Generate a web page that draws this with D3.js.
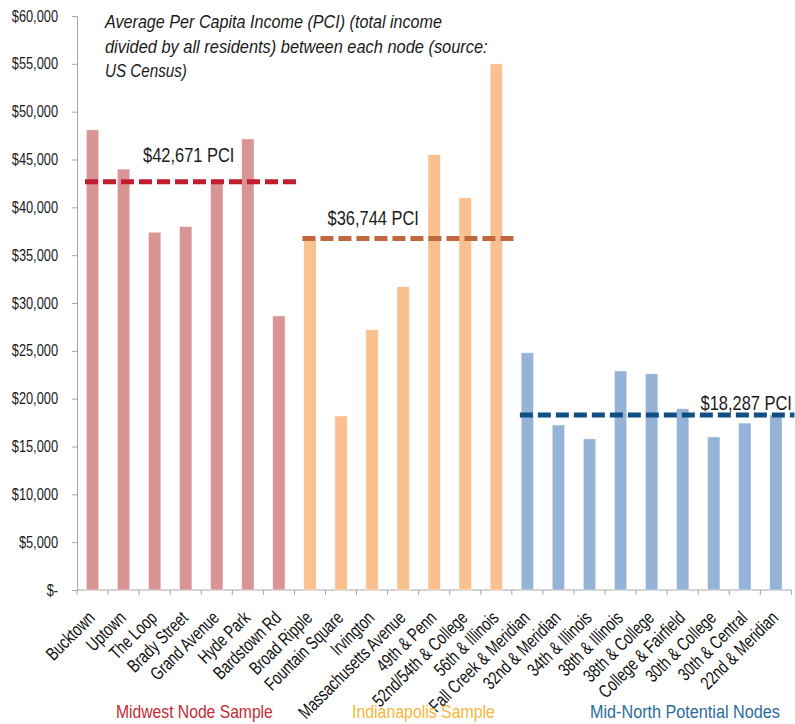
<!DOCTYPE html>
<html>
<head>
<meta charset="utf-8">
<script src="https://cdn.jsdelivr.net/npm/d3@7"></script>
<style>
  html, body { margin: 0; padding: 0; background: #fff; }
  svg { display: block; }
  text { font-family: "Liberation Sans", Arial, sans-serif; }
</style>
</head>
<body>
<script>
// ---- data ----
const categories = [
  "Bucktown", "Uptown", "The Loop", "Brady Street", "Grand Avenue", "Hyde Park", "Bardstown Rd",
  "Broad Ripple", "Fountain Square", "Irvington", "Massachusetts Avenue", "49th & Penn", "52nd/54th & College", "56th & Illinois",
  "Fall Creek & Meridian", "32nd & Meridian", "34th & Illinois", "38th & Illinois", "38th & College", "College & Fairfield", "30th & College", "30th & Central", "22nd & Meridian"
];
const pci = [
  48100, 44000, 37400, 38000, 42700, 47150, 28650,
  36800, 18200, 27200, 31700, 45500, 41000, 55000,
  24800, 17250, 15800, 22900, 22600, 18950, 16000, 17450, 18300
];
const groupOf = [
  0,0,0,0,0,0,0,
  1,1,1,1,1,1,1,
  2,2,2,2,2,2,2,2,2
];
const groupNames = ["Midwest Node Sample", "Indianapolis Sample", "Mid-North Potential Nodes"];
const groupAverages = [42671, 36744, 18287];
const groupAvgLabels = ["$42,671 PCI", "$36,744 PCI", "$18,287 PCI"];
const groupStart = [0, 7, 14];
const groupEnd = [7, 14, 23];
const yTicks = [0, 5000, 10000, 15000, 20000, 25000, 30000, 35000, 40000, 45000, 50000, 55000, 60000];
const titleLines = [
  "Average Per Capita Income (PCI) (total income",
  "divided by all residents) between each node (source:",
  "US Census)"
];

// ---- styles ----
const barColors = ["#D99594", "#FAC08F", "#95B3D7"];
const lineColors = ["#BE1E2D", "#C0683F", "#0F4F83"];
const groupLabelColors = ["#C42B33", "#F6B63A", "#2B6C9B"];
const NARROW = 0.75;

const W = 795, H = 724;
const svg = d3.select("body").append("svg").attr("width", W).attr("height", H);

// place a text at (x0,y0) (left/baseline) and squeeze it horizontally to a target width
function fitText(sel, x0, y0, target) {
  sel.attr("x", 0).attr("y", 0);
  const w = sel.node().getComputedTextLength();
  const s = target / w;
  sel.attr("transform", `translate(${x0},${y0}) scale(${s},1)`);
}

const x = d3.scaleBand().domain(categories).range([77, 791.4]).paddingInner(0.6).paddingOuter(0.3);
const y = d3.scaleLinear().domain([0, 60000]).range([590, 16]);
const step = x.step();
const slotStart = i => 77 + i * step;

// y axis
const yAxis = d3.axisLeft(y).tickValues(yTicks).tickSize(5)
  .tickFormat(d => d === 0 ? "$-" : "$" + d3.format(",")(d));
const gy = svg.append("g").attr("transform", "translate(77,0)").call(yAxis);
gy.select(".domain").attr("stroke", "#A6A6A6");
gy.selectAll(".tick line").attr("stroke", "#A6A6A6");
gy.selectAll(".tick text").attr("x", 0)
  .attr("transform", `translate(-19,0) scale(0.8,1)`)
  .attr("fill", "#1a1a1a").style("font-size", "16px")
  .style("font-family", "'Liberation Sans', Arial, sans-serif");

// x axis line + tick marks at slot boundaries
svg.append("line").attr("x1", 77).attr("x2", 791.4).attr("y1", y(0)).attr("y2", y(0))
  .attr("stroke", "#A6A6A6");
svg.append("g").selectAll("line").data(d3.range(categories.length + 1)).join("line")
  .attr("x1", i => slotStart(i)).attr("x2", i => slotStart(i))
  .attr("y1", y(0)).attr("y2", y(0) + 5).attr("stroke", "#A6A6A6");

// bars
svg.append("g").selectAll("rect").data(categories).join("rect")
  .attr("x", d => x(d)).attr("width", x.bandwidth())
  .attr("y", (d, i) => y(pci[i])).attr("height", (d, i) => y(0) - y(pci[i]))
  .attr("fill", (d, i) => barColors[groupOf[i]])
  .attr("stroke", "#fff").attr("stroke-opacity", 0.6).attr("stroke-width", 0.8);

// x labels
svg.append("g").selectAll("text").data(categories).join("text")
  .attr("transform", d => `translate(${x(d) + x.bandwidth() / 2 + 3.5},619) rotate(-45) scale(${NARROW},1)`)
  .attr("text-anchor", "end").attr("fill", "#111").style("font-size", "18.5px")
  .text(d => d);

// average lines
groupAverages.forEach((v, g) => {
  const x1 = slotStart(groupStart[g]) + 8;
  const x2 = slotStart(groupEnd[g]) + 3;
  svg.append("line").attr("x1", x1).attr("x2", x2).attr("y1", y(v)).attr("y2", y(v))
    .attr("stroke", lineColors[g]).attr("stroke-width", 5).attr("stroke-dasharray", "13,5");
});

// average labels
const avgLabelPos = [[143, 162], [327.5, 225], [700.5, 410]];
groupAvgLabels.forEach((t, g) => {
  const tx = svg.append("text").attr("fill", "#1a1a1a").style("font-size", "20px").text(t);
  fitText(tx, avgLabelPos[g][0], avgLabelPos[g][1], 91.5);
});

// title
const titleWidths = [337, 383, 82];
titleLines.forEach((t, i) => {
  const tx = svg.append("text").attr("fill", "#1a1a1a")
    .style("font-size", "18.5px").style("font-style", "italic").text(t);
  fitText(tx, 105, 28.3 + i * 24.5, titleWidths[i]);
});

// group labels
const groupLabelX = [116, 352, 590];
const groupLabelW = [157, 143, 190];
groupNames.forEach((t, g) => {
  const tx = svg.append("text").attr("fill", groupLabelColors[g]).style("font-size", "19px").text(t);
  fitText(tx, groupLabelX[g], 718.3, groupLabelW[g]);
});
</script>
</body>
</html>
